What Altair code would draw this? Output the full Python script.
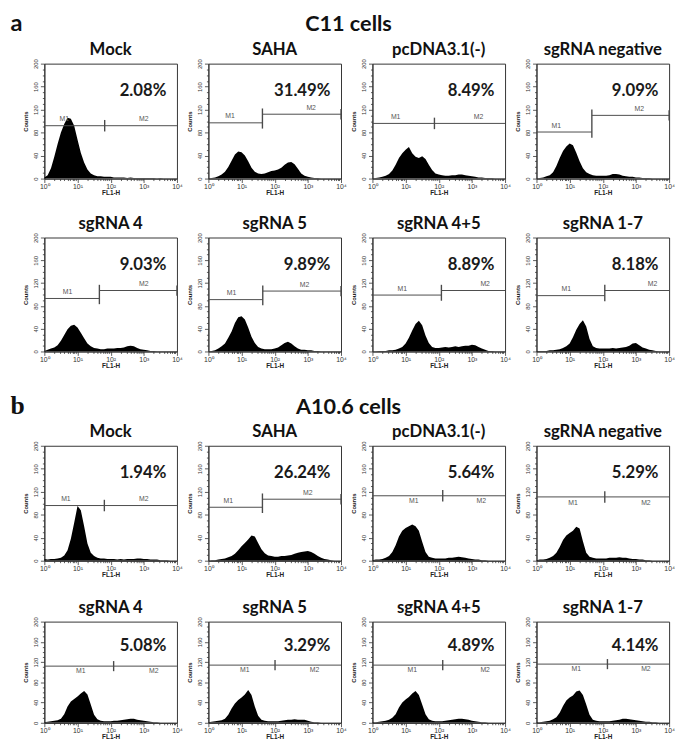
import altair as alt
import pandas as pd

# log10 fluorescence bin centres (FL1-H = 10**bin)
LOG_BINS = [0.0, 0.1, 0.2, 0.3, 0.4, 0.5, 0.6, 0.7, 0.8, 0.9,
            1.0, 1.1, 1.2, 1.3, 1.4, 1.5, 1.6, 1.7, 1.8, 1.9,
            2.0, 2.1, 2.2, 2.3, 2.4, 2.5, 2.6, 2.7, 2.8, 2.9,
            3.0, 3.1, 3.2, 3.3, 3.4, 3.5, 3.6, 3.7, 3.8, 3.9, 4.0]

# ---- C11 cells: counts per bin ----
C11_MOCK = [2, 6, 18, 38, 60, 80, 95, 106, 104, 92, 68, 45, 28, 16, 9, 6, 4, 4, 3, 3, 3, 2, 2, 2, 2, 1, 2, 1, 1, 1, 1, 1, 1, 1, 0, 1, 0, 0, 0, 0, 0]
C11_SAHA = [0, 1, 2, 4, 7, 12, 20, 31, 42, 47, 46, 40, 30, 19, 12, 9, 8, 9, 11, 13, 14, 16, 19, 24, 28, 29, 25, 17, 9, 5, 3, 2, 1, 1, 0, 0, 0, 0, 0, 0, 0]
C11_PCDNA = [0, 1, 2, 3, 5, 8, 14, 24, 36, 44, 50, 55, 44, 38, 36, 39, 34, 24, 15, 9, 7, 6, 5, 5, 6, 6, 7, 7, 6, 5, 4, 3, 2, 2, 1, 1, 1, 0, 0, 0, 0]
C11_NEG = [0, 1, 2, 4, 6, 11, 22, 36, 48, 56, 61, 58, 45, 30, 18, 11, 8, 6, 5, 5, 5, 5, 6, 8, 8, 7, 5, 4, 3, 3, 2, 2, 1, 1, 1, 0, 0, 0, 0, 0, 0]
C11_SG4 = [1, 3, 5, 7, 11, 19, 29, 39, 45, 47, 42, 33, 23, 14, 9, 6, 5, 4, 4, 5, 5, 5, 6, 6, 7, 9, 10, 9, 6, 4, 3, 2, 1, 1, 0, 0, 0, 0, 0, 0, 0]
C11_SG5 = [0, 1, 2, 5, 9, 14, 24, 35, 50, 60, 62, 56, 42, 26, 15, 8, 5, 4, 4, 4, 5, 7, 11, 15, 17, 14, 9, 5, 3, 3, 2, 2, 1, 1, 0, 0, 0, 0, 0, 0, 0]
C11_SG45 = [0, 0, 1, 1, 1, 2, 2, 3, 5, 8, 14, 24, 37, 48, 54, 46, 28, 15, 8, 6, 6, 7, 8, 7, 8, 9, 8, 9, 10, 10, 12, 11, 8, 5, 3, 1, 1, 0, 0, 0, 0]
C11_SG17 = [1, 1, 1, 1, 2, 2, 3, 4, 6, 9, 14, 25, 38, 48, 55, 44, 22, 9, 6, 5, 5, 5, 5, 6, 5, 6, 7, 8, 10, 14, 15, 11, 7, 5, 3, 2, 1, 0, 0, 0, 0]

# ---- A10.6 cells: counts per bin ----
A106_MOCK = [3, 2, 3, 3, 4, 5, 9, 18, 38, 66, 95, 88, 60, 30, 14, 8, 5, 4, 4, 3, 3, 3, 2, 3, 2, 3, 3, 3, 4, 4, 3, 3, 2, 2, 2, 1, 1, 1, 0, 0, 0]
A106_SAHA = [0, 1, 1, 2, 3, 4, 6, 8, 12, 18, 25, 31, 37, 44, 42, 31, 20, 13, 9, 8, 7, 7, 8, 8, 9, 10, 12, 14, 15, 16, 17, 15, 12, 8, 5, 3, 2, 1, 0, 0, 0]
A106_PCDNA = [1, 2, 2, 3, 5, 8, 15, 27, 42, 52, 57, 60, 63, 60, 52, 33, 15, 7, 5, 4, 4, 4, 4, 5, 5, 6, 7, 6, 5, 4, 3, 2, 2, 1, 1, 0, 0, 0, 0, 0, 0]
A106_NEG = [1, 2, 2, 3, 5, 8, 14, 24, 36, 44, 48, 52, 59, 56, 34, 14, 7, 5, 4, 4, 4, 4, 5, 5, 5, 6, 5, 5, 4, 3, 3, 2, 2, 1, 1, 0, 0, 0, 0, 0, 0]
A106_SG4 = [1, 2, 3, 4, 5, 8, 17, 32, 42, 47, 52, 58, 63, 56, 36, 16, 7, 4, 3, 3, 3, 4, 4, 5, 6, 7, 8, 8, 6, 5, 4, 3, 2, 1, 1, 0, 0, 0, 0, 0, 0]
A106_SG5 = [1, 2, 3, 4, 5, 8, 16, 28, 38, 45, 50, 56, 65, 55, 32, 14, 6, 4, 3, 3, 3, 3, 4, 5, 6, 6, 7, 6, 6, 6, 4, 2, 1, 1, 0, 0, 0, 0, 0, 0, 0]
A106_SG45 = [1, 1, 2, 3, 4, 6, 10, 17, 30, 40, 46, 51, 58, 63, 55, 36, 17, 7, 4, 3, 3, 3, 4, 5, 6, 7, 8, 8, 7, 6, 4, 3, 2, 1, 1, 0, 0, 0, 0, 0, 0]
A106_SG17 = [1, 1, 2, 3, 4, 7, 11, 20, 33, 44, 50, 54, 62, 64, 55, 36, 16, 6, 4, 3, 3, 3, 3, 4, 5, 6, 8, 8, 7, 6, 5, 4, 3, 2, 2, 1, 1, 0, 0, 0, 0]

TITLES = ["Mock", "SAHA", "pcDNA3.1(-)", "sgRNA negative",
          "sgRNA 4", "sgRNA 5", "sgRNA 4+5", "sgRNA 1-7"]

C11_COUNTS = [C11_MOCK, C11_SAHA, C11_PCDNA, C11_NEG, C11_SG4, C11_SG5, C11_SG45, C11_SG17]
C11_PCT = ["2.08%", "31.49%", "8.49%", "9.09%", "9.03%", "9.89%", "8.89%", "8.18%"]
C11_GATE = [1.82, 1.63, 1.87, 1.67, 1.66, 1.64, 2.08, 2.06]      # log10 of M1/M2 boundary
C11_M1 = [92, 97, 96, 81, 93, 91, 99, 98]                         # M1 marker level (counts)
C11_M2 = [92, 112, 96, 110, 107, 106, 107, 107]                   # M2 marker level (counts)
C11_END = [False, True, False, True, True, True, False, False]
C11_M1X = [0.6, 0.65, 0.7, 0.6, 0.7, 0.7, 0.9, 0.9]
C11_M2X = [3.0, 3.1, 3.2, 3.1, 3.0, 2.9, 3.4, 3.5]
C11_SIDE = ["above"] * 8

A106_COUNTS = [A106_MOCK, A106_SAHA, A106_PCDNA, A106_NEG, A106_SG4, A106_SG5, A106_SG45, A106_SG17]
A106_PCT = ["1.94%", "26.24%", "5.64%", "5.29%", "5.08%", "3.29%", "4.89%", "4.14%"]
A106_GATE = [1.81, 1.63, 2.12, 2.06, 2.09, 2.01, 2.12, 2.14]
A106_M1 = [96, 93, 113, 111, 112, 114, 114, 116]
A106_M2 = [96, 107, 113, 111, 112, 114, 114, 116]
A106_END = [False, True, False, False, False, False, False, False]
A106_M1X = [0.65, 0.6, 1.25, 1.1, 1.1, 1.1, 1.2, 1.2]
A106_M2X = [3.0, 3.0, 3.28, 3.3, 3.3, 3.2, 3.4, 3.3]
A106_SIDE = ["above", "above", "below", "below", "below", "below", "below", "below"]

X_TICKS = [m * 10 ** d for d in range(4) for m in range(1, 10)] + [10000]
Y_TICKS = list(range(0, 201, 10))

# ---- styling ----
W = 135
GAP_X = 3
ROW_H = [117, 116, 117, 103]
PCT_LOGX = 3.68
PCT_Y = 152
LINE = "#4a4a4a"
TITLE_FONT = "Lato"
SMALL_FONT = "Liberation Sans"

XSCALE = alt.Scale(type="log", domain=[1, 10000], nice=False)
YSCALE = alt.Scale(domain=[0, 200], nice=False)

DEC = "[1,10,100,1000,10000]"
XAXIS = alt.Axis(
    values=X_TICKS,
    labelExpr="indexof(" + DEC + ", datum.value) >= 0 ? '10' + ['\u2070','\u00b9','\u00b2','\u00b3','\u2074'][indexof(" + DEC + ", datum.value)] : ''",
    tickSize={"condition": {"test": "indexof(" + DEC + ", datum.value) >= 0", "value": 4}, "value": 2},
    tickWidth=0.8, labelFontSize=7, labelFont=SMALL_FONT, labelPadding=0,
    labelFlush=False, labelOverlap=False, labelBound=False,
    title="FL1-H", titleFontSize=6.5, titleFont=SMALL_FONT, titleFontWeight="bold", titlePadding=0,
    grid=False, domainColor="#333", tickColor="#333", labelColor="#333", titleColor="#222",
)
YAXIS = alt.Axis(
    values=Y_TICKS,
    labelExpr="datum.value % 40 == 0 ? datum.label : ''",
    tickSize={"condition": {"test": "datum.value % 40 == 0", "value": 4}, "value": 2},
    tickWidth=0.8, labelAngle=270, labelFontSize=6, labelFont=SMALL_FONT, labelPadding=2,
    labelOverlap=False, labelBound=False, labelFlush=False,
    title="Counts", titleFontSize=6, titleFont=SMALL_FONT, titlePadding=4,
    grid=False, domainColor="#333", tickColor="#333", labelColor="#333", titleColor="#222",
)


def X(field):
    return alt.X(field, type="quantitative", scale=XSCALE, axis=XAXIS)


def Y(field):
    return alt.Y(field, type="quantitative", scale=YSCALE, axis=YAXIS)


def panel(counts, title, pct, gate, m1, m2, end_tick, m1x, m2x, side, height):
    hist = pd.DataFrame({"fl": [10 ** b for b in LOG_BINS], "count": counts})
    area = alt.Chart(hist).mark_area(color="black", clip=True).encode(x=X("fl"), y=Y("count"))

    g = 10 ** gate
    hdf = pd.DataFrame({"x": [1, g], "x2": [g, 10000], "y": [m1, m2]})
    hl = alt.Chart(hdf).mark_rule(color=LINE, strokeWidth=1).encode(x=X("x"), x2="x2:Q", y=Y("y"))

    vx = [g]
    vy = [min(m1, m2) - 10]
    vy2 = [max(m1, m2) + 10]
    if end_tick:
        vx.append(10000)
        vy.append(m2 - 9)
        vy2.append(m2 + 9)
    vdf = pd.DataFrame({"x": vx, "y": vy, "y2": vy2})
    vl = alt.Chart(vdf).mark_rule(color=LINE, strokeWidth=1.4).encode(x=X("x"), y=Y("y"), y2="y2:Q")

    off = 11 if side == "above" else -10
    ldf = pd.DataFrame({"x": [10 ** m1x, 10 ** m2x], "y": [m1 + off, m2 + off], "t": ["M1", "M2"]})
    labs = alt.Chart(ldf).mark_text(font=SMALL_FONT, fontSize=7, color="#555", baseline="middle").encode(
        x=X("x"), y=Y("y"), text="t:N")

    pdf = pd.DataFrame({"x": [10 ** PCT_LOGX], "y": [PCT_Y], "t": [pct]})
    ptxt = alt.Chart(pdf).mark_text(font=TITLE_FONT, fontSize=17, fontWeight="bold", color="#1a1a1a",
                                    align="right", baseline="middle").encode(x=X("x"), y=Y("y"), text="t:N")

    return alt.layer(area, hl, vl, labs, ptxt).properties(
        width=W, height=height,
        title=alt.TitleParams(text=title, font=TITLE_FONT, fontSize=17, fontWeight="bold",
                              color="#111", anchor="middle", offset=0),
    )


def row(counts, pcts, gates, m1s, m2s, ends, m1xs, m2xs, sides, start, height):
    charts = []
    for i in range(start, start + 4):
        charts.append(panel(counts[i], TITLES[i], pcts[i], gates[i], m1s[i], m2s[i], ends[i],
                            m1xs[i], m2xs[i], sides[i], height))
    return alt.hconcat(*charts, spacing=GAP_X)


def block(letter, letter_font, letter_size, heading, heading_offset, rows, spacing):
    inner = alt.vconcat(*rows, spacing=spacing).properties(
        title=alt.TitleParams(text=heading, font=TITLE_FONT, fontSize=22, fontWeight="bold",
                              color="#111", anchor="middle", offset=heading_offset))
    return alt.vconcat(inner).properties(
        title=alt.TitleParams(text=letter, font=letter_font, fontSize=letter_size, fontWeight="bold",
                              color="#111", anchor="start", offset=-23, dx=-12))


block_a = block("a", TITLE_FONT, 24, "C11 cells", 4.5, [
    row(C11_COUNTS, C11_PCT, C11_GATE, C11_M1, C11_M2, C11_END, C11_M1X, C11_M2X, C11_SIDE, 0, ROW_H[0]),
    row(C11_COUNTS, C11_PCT, C11_GATE, C11_M1, C11_M2, C11_END, C11_M1X, C11_M2X, C11_SIDE, 4, ROW_H[1]),
], 18)
block_b = block("b", "Liberation Serif", 26, "A10.6 cells", 4, [
    row(A106_COUNTS, A106_PCT, A106_GATE, A106_M1, A106_M2, A106_END, A106_M1X, A106_M2X, A106_SIDE, 0, ROW_H[2]),
    row(A106_COUNTS, A106_PCT, A106_GATE, A106_M1, A106_M2, A106_END, A106_M1X, A106_M2X, A106_SIDE, 4, ROW_H[3]),
], 20)

chart = alt.vconcat(block_a, block_b, spacing=24).properties(
    padding={"left": 2, "top": -3, "right": 0, "bottom": 0},
    background="white",
).configure_view(stroke="#333", strokeWidth=1)

chart.save("out.html", embed_options={"renderer": "svg", "actions": False})
